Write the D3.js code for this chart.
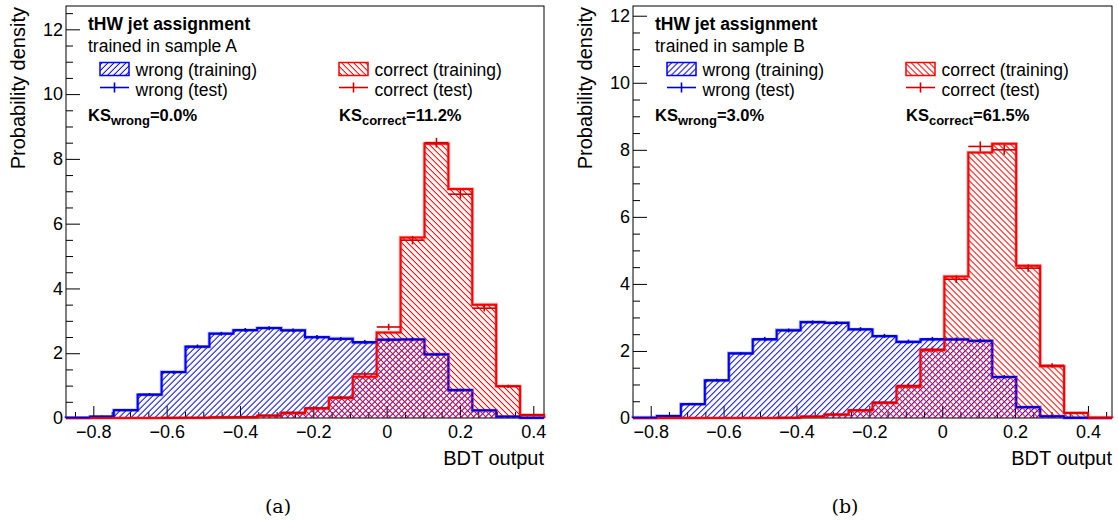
<!DOCTYPE html>
<html>
<head>
<meta charset="utf-8">
<script src="https://cdn.jsdelivr.net/npm/d3@7"></script>
<style>
  body { margin: 0; background: #fff; }
  svg text { font-family: "Liberation Sans", Arial, Helvetica, sans-serif; fill: #000; }
</style>
</head>
<body>
<svg id="chart" width="1118" height="524"></svg>
<script>
// ---- data -------------------------------------------------------------
const nBins = 20;
const xTickValues = [-0.8, -0.6, -0.4, -0.2, 0, 0.2, 0.4];
const yTickValues = [0, 2, 4, 6, 8, 10, 12];
const xTitle = "BDT output";
const yTitle = "Probability density";
const legendTitle = "tHW jet assignment";
const legendLabels = ["wrong (training)", "wrong (test)", "correct (training)", "correct (test)"];

// sample A
const xRangeA = [-0.8745, 0.4292];
const yMaxA = 12.72;
const wrongTrainA = [0.01, 0.04, 0.24, 0.72, 1.42, 2.20, 2.61, 2.71, 2.78, 2.71, 2.49, 2.45, 2.33, 2.42, 2.42, 1.97, 0.86, 0.23, 0.04, 0.01];
const wrongTestA  = [0.01, 0.05, 0.25, 0.73, 1.41, 2.21, 2.60, 2.72, 2.77, 2.70, 2.50, 2.44, 2.35, 2.41, 2.43, 1.96, 0.87, 0.24, 0.05, 0.01];
const wrongErrA   = [0.01, 0.02, 0.03, 0.04, 0.05, 0.06, 0.06, 0.06, 0.06, 0.06, 0.06, 0.06, 0.06, 0.06, 0.06, 0.05, 0.04, 0.02, 0.01, 0.01];
const correctTrainA = [0, 0, 0, 0, 0.005, 0.01, 0.02, 0.02, 0.07, 0.15, 0.29, 0.62, 1.27, 2.64, 5.57, 8.47, 7.07, 3.50, 0.98, 0.09];
const correctTestA  = [0, 0, 0, 0, 0.005, 0.01, 0.02, 0.03, 0.08, 0.17, 0.31, 0.64, 1.36, 2.81, 5.49, 8.50, 6.91, 3.39, 0.98, 0.10];
const correctErrA   = [0, 0, 0, 0, 0.005, 0.01, 0.01, 0.01, 0.02, 0.03, 0.04, 0.05, 0.07, 0.10, 0.13, 0.15, 0.14, 0.10, 0.05, 0.02];
const ksWrongA = "0.0%";
const ksCorrectA = "11.2%";
const sampleA = "trained in sample A";

// sample B
const xRangeB = [-0.8486, 0.4660];
const yMaxB = 12.29;
const wrongTrainB = [0.01, 0.06, 0.41, 1.12, 1.93, 2.34, 2.62, 2.86, 2.84, 2.64, 2.44, 2.27, 2.34, 2.35, 2.30, 1.22, 0.32, 0.05, 0.01, 0];
const wrongTestB  = [0.01, 0.06, 0.42, 1.13, 1.92, 2.36, 2.61, 2.85, 2.83, 2.65, 2.45, 2.28, 2.36, 2.34, 2.31, 1.23, 0.33, 0.05, 0.01, 0];
const wrongErrB   = [0.01, 0.02, 0.03, 0.04, 0.05, 0.06, 0.06, 0.06, 0.06, 0.06, 0.06, 0.06, 0.06, 0.06, 0.06, 0.05, 0.03, 0.01, 0.01, 0];
const correctTrainB = [0, 0, 0, 0, 0, 0, 0.01, 0.04, 0.10, 0.22, 0.45, 0.93, 2.02, 4.22, 7.92, 8.18, 4.54, 1.54, 0.15, 0.01];
const correctTestB  = [0, 0, 0, 0, 0, 0, 0.01, 0.05, 0.11, 0.24, 0.47, 0.97, 2.05, 4.14, 8.10, 8.00, 4.47, 1.57, 0.16, 0.01];
const correctErrB   = [0, 0, 0, 0, 0, 0, 0.01, 0.01, 0.02, 0.03, 0.04, 0.06, 0.08, 0.11, 0.15, 0.15, 0.11, 0.06, 0.02, 0.01];
const ksWrongB = "3.0%";
const ksCorrectB = "61.5%";
const sampleB = "trained in sample B";

const panelTags = ["(a)", "(b)"];

// ---- layout & style ---------------------------------------------------
const BLUE = "#0000ff", RED = "#ff0000";
const BLUE_TEST = "#0000cc", RED_TEST = "#d00000";
const FONT_LEG = 17.5, FONT_TICK = 18, FONT_TITLE = 20;

const panels = [
  { frame: { l: 66, r: 544, t: 6, b: 418 }, xRange: xRangeA, yMax: yMaxA,
    wrongTrain: wrongTrainA, wrongTest: wrongTestA, wrongErr: wrongErrA,
    correctTrain: correctTrainA, correctTest: correctTestA, correctErr: correctErrA,
    ksWrong: ksWrongA, ksCorrect: ksCorrectA, sample: sampleA, tag: panelTags[0], tagX: 278 },
  { frame: { l: 633, r: 1112, t: 6, b: 418 }, xRange: xRangeB, yMax: yMaxB,
    wrongTrain: wrongTrainB, wrongTest: wrongTestB, wrongErr: wrongErrB,
    correctTrain: correctTrainB, correctTest: correctTestB, correctErr: correctErrB,
    ksWrong: ksWrongB, ksCorrect: ksCorrectB, sample: sampleB, tag: panelTags[1], tagX: 845 }
];

const svg = d3.select("#chart");
const defs = svg.append("defs");

// diagonal hatch fills: "///" for wrong (rotated +45), "\\\" for correct (rotated -45)
function hatch(id, color, angle) {
  const s = 4.24;
  const p = defs.append("pattern")
    .attr("id", id)
    .attr("patternUnits", "userSpaceOnUse")
    .attr("width", s).attr("height", s)
    .attr("patternTransform", `rotate(${angle})`);
  p.append("rect").attr("width", 1).attr("height", s).attr("x", 1.6)
    .attr("fill", color);
}
hatch("hatchWrong", BLUE, 45);
hatch("hatchCorrect", RED, -45);

function drawPanel(P) {
  const f = P.frame;
  const x = d3.scaleLinear().domain(P.xRange).range([f.l, f.r]);
  const y = d3.scaleLinear().domain([0, P.yMax]).range([f.b, f.t]);
  const edges = d3.range(nBins + 1).map(i => P.xRange[0] + i * (P.xRange[1] - P.xRange[0]) / nBins);
  const g = svg.append("g");

  // frame
  g.append("rect")
    .attr("x", f.l).attr("y", f.t)
    .attr("width", f.r - f.l).attr("height", f.b - f.t)
    .attr("fill", "none").attr("stroke", "#000").attr("stroke-width", 1);

  // y axis: major and minor ticks pointing inwards
  const yMinor = d3.range(0, P.yMax, 0.5).filter(v => yTickValues.indexOf(v) < 0);
  g.append("g").attr("transform", `translate(${f.l},0)`)
    .call(d3.axisLeft(y).tickValues(yMinor).tickSizeInner(-7).tickSizeOuter(0).tickFormat(""))
    .call(s => s.select(".domain").remove());
  const ya = g.append("g").attr("transform", `translate(${f.l},0)`)
    .call(d3.axisLeft(y).tickValues(yTickValues).tickSizeInner(-14).tickSizeOuter(0).tickPadding(3).tickFormat(d3.format("d")))
    .call(s => s.select(".domain").remove());
  ya.selectAll("text").attr("font-size", FONT_TICK).attr("font-family", null);

  // x axis
  const xMinor = d3.range(-1.0, 0.6, 0.05)
    .map(v => Math.round(v * 100) / 100)
    .filter(v => v >= P.xRange[0] && v <= P.xRange[1] && Math.abs(Math.round(v * 5) - v * 5) > 1e-6);
  g.append("g").attr("transform", `translate(0,${f.b})`)
    .call(d3.axisBottom(x).tickValues(xMinor).tickSizeInner(-6).tickSizeOuter(0).tickFormat(""))
    .call(s => s.select(".domain").remove());
  const xa = g.append("g").attr("transform", `translate(0,${f.b})`)
    .call(d3.axisBottom(x).tickValues(xTickValues).tickSizeInner(-12).tickSizeOuter(0).tickPadding(7.5)
      .tickFormat(d => d === 0 ? "0" : d3.format(".1f")(d)))
    .call(s => s.select(".domain").remove());
  xa.selectAll("text").attr("font-size", FONT_TICK).attr("font-family", null);
  svg.selectAll(".tick line").attr("stroke", "#000");

  // axis titles
  g.append("text")
    .attr("x", f.r).attr("y", 465)
    .attr("text-anchor", "end").attr("font-size", FONT_TITLE)
    .text(xTitle);
  g.append("text")
    .attr("transform", `translate(${f.l - 41},7) rotate(-90)`)
    .attr("text-anchor", "end").attr("font-size", FONT_TITLE)
    .text(yTitle);

  // stepped histogram path
  function stepPath(vals) {
    let d = `M${x(edges[0])},${y(0)}`;
    vals.forEach((v, i) => {
      d += `L${x(edges[i])},${y(v)}L${x(edges[i + 1])},${y(v)}`;
    });
    d += `L${x(edges[nBins])},${y(0)}`;
    return d;
  }
  function hist(vals, pattern, color) {
    g.append("path").attr("d", stepPath(vals) + "Z")
      .attr("fill", `url(#${pattern})`).attr("stroke", "none");
    g.append("path").attr("d", stepPath(vals))
      .attr("fill", "none").attr("stroke", color).attr("stroke-opacity", 0.3).attr("stroke-width", 3.6);
    g.append("path").attr("d", stepPath(vals))
      .attr("fill", "none").attr("stroke", color).attr("stroke-width", 2);
  }
  function points(vals, errs, color) {
    const pts = vals.map((v, i) => ({ v, e: errs[i], i })).filter(p => p.v > 0);
    const pg = g.append("g").attr("stroke", color).attr("stroke-width", 1.6);
    pg.selectAll("line.h").data(pts).join("line").attr("class", "h")
      .attr("x1", p => x(edges[p.i])).attr("x2", p => x(edges[p.i + 1]))
      .attr("y1", p => y(p.v)).attr("y2", p => y(p.v));
    pg.selectAll("line.v").data(pts).join("line").attr("class", "v")
      .attr("x1", p => x((edges[p.i] + edges[p.i + 1]) / 2)).attr("x2", p => x((edges[p.i] + edges[p.i + 1]) / 2))
      .attr("y1", p => y(p.v - p.e)).attr("y2", p => y(p.v + p.e));
  }
  hist(P.wrongTrain, "hatchWrong", BLUE);
  hist(P.correctTrain, "hatchCorrect", RED);
  points(P.wrongTest, P.wrongErr, BLUE_TEST);
  points(P.correctTest, P.correctErr, RED_TEST);

  // legend
  const lx = f.l;
  g.append("text").attr("x", lx + 22).attr("y", 30)
    .attr("font-size", FONT_LEG).attr("font-weight", "bold").text(legendTitle);
  g.append("text").attr("x", lx + 22).attr("y", 52)
    .attr("font-size", FONT_LEG).text(P.sample);

  const cols = [
    { dx: 34, pattern: "hatchWrong", color: BLUE, testColor: BLUE_TEST, labels: legendLabels.slice(0, 2) },
    { dx: 273, pattern: "hatchCorrect", color: RED, testColor: RED_TEST, labels: legendLabels.slice(2, 4) }
  ];
  cols.forEach(c => {
    g.append("rect").attr("x", lx + c.dx).attr("y", 62.5).attr("width", 29).attr("height", 13)
      .attr("fill", `url(#${c.pattern})`).attr("stroke", c.color).attr("stroke-width", 1.5);
    g.append("text").attr("x", lx + c.dx + 35.5).attr("y", 76)
      .attr("font-size", FONT_LEG).text(c.labels[0]);
    g.append("line").attr("x1", lx + c.dx).attr("x2", lx + c.dx + 29).attr("y1", 87.5).attr("y2", 87.5)
      .attr("stroke", c.testColor).attr("stroke-width", 1.6);
    g.append("line").attr("x1", lx + c.dx + 14.5).attr("x2", lx + c.dx + 14.5).attr("y1", 82.5).attr("y2", 92.5)
      .attr("stroke", c.testColor).attr("stroke-width", 1.6);
    g.append("text").attr("x", lx + c.dx + 35.5).attr("y", 96)
      .attr("font-size", FONT_LEG).text(c.labels[1]);
  });

  // Kolmogorov-Smirnov probabilities
  function ks(xpos, sub, val) {
    const t = g.append("text").attr("x", xpos).attr("y", 120.5)
      .attr("font-size", 16.5).attr("font-weight", "bold");
    t.append("tspan").text("KS");
    t.append("tspan").attr("font-size", 13).attr("dy", 4).text(sub);
    t.append("tspan").attr("dy", -4).text("=" + val);
  }
  ks(lx + 22, "wrong", P.ksWrong);
  ks(lx + 273, "correct", P.ksCorrect);

  // sub-figure tag
  svg.append("text").attr("x", P.tagX).attr("y", 513)
    .attr("text-anchor", "middle").attr("font-size", 19)
    .style("font-family", '"DejaVu Serif", "Liberation Serif", serif')
    .text(P.tag);
}

panels.forEach(drawPanel);
</script>
</body>
</html>
